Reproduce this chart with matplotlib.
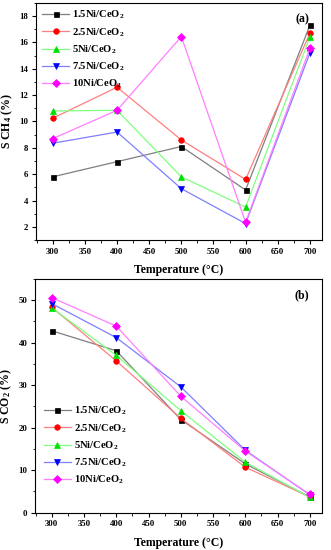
import matplotlib
matplotlib.use("Agg")
import matplotlib.pyplot as plt
from matplotlib.ticker import MultipleLocator

plt.rcParams['font.family'] = ['Liberation Serif', 'DejaVu Serif']
plt.rcParams['font.weight'] = 'bold'
plt.rcParams['mathtext.fontset'] = 'custom'
plt.rcParams['mathtext.rm'] = 'Liberation Serif:bold'
plt.rcParams['mathtext.bf'] = 'Liberation Serif:bold'
plt.rcParams['mathtext.it'] = 'Liberation Serif:bold'

temps = [300, 400, 500, 600, 700]
labels = ['1.5Ni/CeO$_2$', '2.5Ni/CeO$_2$', '5Ni/CeO$_2$', '7.5Ni/CeO$_2$', '10Ni/CeO$_2$']

ch4_15 = [5.8, 6.95, 8.1, 4.8, 17.3]
ch4_25 = [10.25, 12.6, 8.6, 5.6, 16.7]
ch4_5 = [10.8, 10.85, 5.8, 3.5, 16.4]
ch4_75 = [8.35, 9.2, 4.9, 2.25, 15.2]
ch4_10 = [8.7, 10.85, 16.45, 2.35, 15.55]

co2_15 = [42.8, 38.1, 21.9, 11.5, 3.7]
co2_25 = [48.3, 35.7, 22.2, 10.7, 3.7]
co2_5 = [48.2, 37.0, 24.0, 11.9, 3.6]
co2_75 = [49.2, 41.2, 29.6, 14.7, 4.2]
co2_10 = [50.6, 43.9, 27.4, 14.5, 4.3]

line_colors = ['#7f7f7f', '#ff7f7f', '#7fff7f', '#7f7fff', '#ff7fff']
marker_colors = ['#000000', '#ff0000', '#00e000', '#0000ff', '#ff00ff']
markers = ['s', 'o', '^', 'v', 'D']
msizes = [3.6, 4.0, 4.2, 4.2, 3.6]

fig = plt.figure(figsize=(3.31, 5.5), dpi=100)
ax1 = fig.add_axes([0.109, 0.5636, 0.864, 0.431])
ax2 = fig.add_axes([0.106, 0.0678, 0.867, 0.425])

def draw(ax, series, ylim, major, minor, ylabel, tag):
    for vals, lc, mc, m, ms, lab in zip(series, line_colors, marker_colors, markers, msizes, labels):
        ax.plot(temps, vals, color=lc, lw=0.9, marker=m, markersize=ms,
                markerfacecolor=mc, markeredgecolor=mc, markeredgewidth=0.5, label=lab)
    ax.set_xlim(274, 719)
    ax.set_ylim(*ylim)
    ax.xaxis.set_major_locator(MultipleLocator(50))
    ax.xaxis.set_minor_locator(MultipleLocator(25))
    ax.yaxis.set_major_locator(MultipleLocator(major))
    ax.yaxis.set_minor_locator(MultipleLocator(minor))
    ax.tick_params(axis='both', which='major', direction='out', length=3, width=0.8,
                   labelsize=6.3, pad=2.5, top=False, right=False)
    ax.tick_params(axis='both', which='minor', direction='out', length=1.8, width=0.6,
                   top=False, right=False)
    for lbl in ax.get_xticklabels() + ax.get_yticklabels():
        lbl.set_fontweight('bold')
    for sp in ax.spines.values():
        sp.set_linewidth(0.8)
    ax.set_xlabel('Temperature (°C)', fontsize=8.5, fontweight='bold', labelpad=6)
    ax.set_ylabel(ylabel, fontsize=8.5, fontweight='bold', labelpad=3)
    ax.text(0.955, 0.955, tag, transform=ax.transAxes, ha='right', va='top',
            fontsize=8.5, fontweight='bold')

draw(ax1, [ch4_15, ch4_25, ch4_5, ch4_75, ch4_10], (1, 19), 2, 1, 'S CH$_4$ (%)', '(a)')
draw(ax2, [co2_15, co2_25, co2_5, co2_75, co2_10], (0, 55), 10, 5, 'S CO$_2$ (%)', '(b)')

leg1 = ax1.legend(loc='upper left', bbox_to_anchor=(0.0, 1.0), frameon=False, fontsize=7.6,
                  handlelength=2.6, handletextpad=0.3, labelspacing=0.45, borderaxespad=0.15)
leg2 = ax2.legend(loc='lower left', bbox_to_anchor=(0.015, 0.095), frameon=False, fontsize=7.6,
                  handlelength=2.6, handletextpad=0.3, labelspacing=0.45, borderaxespad=0.0)
for leg in (leg1, leg2):
    for t in leg.get_texts():
        t.set_fontweight('bold')

fig.savefig('out.png', dpi=100)
